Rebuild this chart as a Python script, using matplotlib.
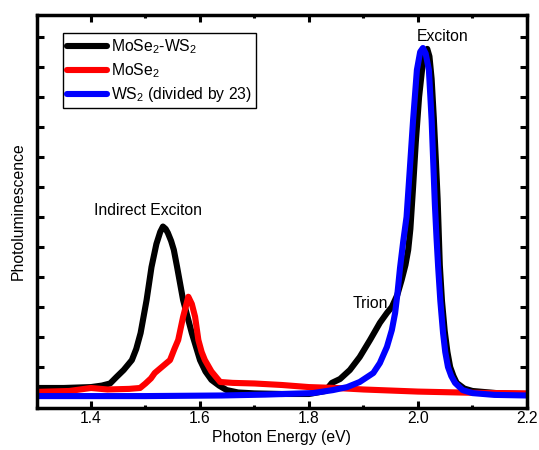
import matplotlib
matplotlib.use("Agg")
import matplotlib.pyplot as plt
from matplotlib.ticker import MultipleLocator, FixedLocator

plt.rcParams['font.family'] = ['Liberation Sans', 'DejaVu Sans']
plt.rcParams['mathtext.fontset'] = 'custom'
plt.rcParams['mathtext.rm'] = 'Liberation Sans'
plt.rcParams['mathtext.it'] = 'Liberation Sans:italic'
FS = 11.3

# MoSe2-WS2 heterostructure
het_x = [1.30, 1.35, 1.40, 1.42, 1.435, 1.447, 1.46, 1.475, 1.483, 1.491, 1.502,
         1.511, 1.52, 1.527, 1.532, 1.537, 1.541, 1.547, 1.552, 1.558, 1.569,
         1.585, 1.600, 1.61, 1.621, 1.635, 1.649, 1.67, 1.70, 1.75, 1.80, 1.83,
         1.842, 1.857, 1.875, 1.893, 1.912, 1.930, 1.943, 1.952, 1.962, 1.970,
         1.977, 1.982, 1.986, 1.991, 1.996, 2.002, 2.008, 2.013, 2.017, 2.021,
         2.025, 2.029, 2.033, 2.036, 2.040, 2.044, 2.049, 2.054, 2.059, 2.065,
         2.071, 2.085, 2.10, 2.15, 2.20]
het_y = [0.30, 0.30, 0.33, 0.38, 0.45, 0.67, 0.90, 1.23, 1.60, 2.13, 3.23,
         4.33, 5.10, 5.50, 5.68, 5.60, 5.47, 5.20, 4.90, 4.33, 3.23,
         2.13, 1.23, 0.85, 0.57, 0.38, 0.23, 0.15, 0.12, 0.10, 0.10, 0.20,
         0.47, 0.60, 0.90, 1.33, 1.90, 2.47, 2.80, 3.00, 3.40, 3.90,
         4.40, 4.90, 5.60, 7.00, 8.50, 10.0, 11.0, 11.45, 11.6, 11.35,
         10.6, 9.30, 7.80, 6.60, 4.40, 3.20, 2.20, 1.50, 1.00, 0.70,
         0.47, 0.28, 0.20, 0.12, 0.10]

# MoSe2 monolayer
mose2_x = [1.30, 1.36, 1.40, 1.43, 1.47, 1.49, 1.50, 1.51, 1.517, 1.53, 1.545,
           1.553, 1.560, 1.569, 1.5786, 1.585, 1.591, 1.597, 1.603, 1.609, 1.621,
           1.637, 1.66, 1.70, 1.75, 1.80, 1.85, 1.90, 2.00, 2.10, 2.20]
mose2_y = [0.17, 0.20, 0.30, 0.25, 0.27, 0.30, 0.45, 0.62, 0.80, 1.00, 1.23,
           1.60, 1.90, 2.67, 3.34, 3.10, 2.67, 1.90, 1.50, 1.23, 0.85,
           0.50, 0.47, 0.45, 0.40, 0.33, 0.30, 0.25, 0.18, 0.14, 0.12]

# WS2 monolayer (divided by 23)
ws2_x = [1.30, 1.50, 1.64, 1.72, 1.807, 1.844, 1.870, 1.893, 1.918, 1.930, 1.943,
         1.952, 1.958, 1.962, 1.967, 1.973, 1.979, 1.985, 1.991, 1.998, 2.004,
         2.009, 2.014, 2.020, 2.025, 2.028, 2.031, 2.034, 2.037, 2.041, 2.046,
         2.050, 2.055, 2.061, 2.068, 2.082, 2.10, 2.14, 2.20]
ws2_y = [0.03, 0.03, 0.05, 0.08, 0.13, 0.23, 0.33, 0.50, 0.80, 1.13, 1.67,
         2.23, 2.80, 3.40, 4.30, 5.20, 6.00, 7.60, 9.23, 10.9, 11.5,
         11.63, 11.45, 10.9, 9.23, 7.80, 6.40, 5.30, 4.33, 3.20, 2.13,
         1.50, 1.00, 0.70, 0.47, 0.23, 0.13, 0.07, 0.05]

x_major = [1.4, 1.6, 1.8, 2.0, 2.2]
x_labels = ["1.4", "1.6", "1.8", "2.0", "2.2"]
y_ticks = list(range(1, 13))

fig = plt.figure(figsize=(5.39, 4.5), dpi=100)
ax = fig.add_axes([36.5 / 539, 42 / 450, 490.5 / 539, 393 / 450])

style = dict(lw=4.4, solid_joinstyle='round', solid_capstyle='round')
ax.plot(het_x, het_y, color='black', label='MoSe$_2$-WS$_2$', **style)
ax.plot(mose2_x, mose2_y, color='#ff0000', label='MoSe$_2$', **style)
ax.plot(ws2_x, ws2_y, color='#0000ff', label='WS$_2$ (divided by 23)', **style)

ax.set_xlim(1.3, 2.2)
ax.set_ylim(-0.367, 12.73)
ax.xaxis.set_major_locator(FixedLocator(x_major))
ax.set_xticklabels(x_labels)
ax.xaxis.set_minor_locator(MultipleLocator(0.1))
ax.set_yticks(y_ticks)
ax.set_yticklabels([])

for s in ax.spines.values():
    s.set_linewidth(2.5)
ax.tick_params(which='major', direction='in', length=5, width=2.2,
               top=True, right=True, labelsize=FS, pad=2)
ax.tick_params(which='minor', direction='in', length=2.5, width=2.2,
               top=True, right=True)

ax.set_xlabel('Photon Energy (eV)', fontsize=FS, labelpad=3)
ax.set_ylabel('Photoluminescence', fontsize=FS, labelpad=6)

ax.text(1.5046, 6.23, 'Indirect Exciton', fontsize=FS, ha='center', va='center')
ax.text(2.046, 12.0, 'Exciton', fontsize=FS, ha='center', va='center')
ax.text(1.912, 3.1, 'Trion', fontsize=FS, ha='center', va='center')

leg = ax.legend(loc='upper left', bbox_to_anchor=(0.054, 0.954), borderaxespad=0,
                fontsize=FS, handlelength=2.55, handletextpad=0.25,
                borderpad=0.25, labelspacing=0.35, fancybox=False,
                framealpha=1, edgecolor='black')
leg.get_frame().set_linewidth(1.0)

fig.savefig('out.png', dpi=100)
